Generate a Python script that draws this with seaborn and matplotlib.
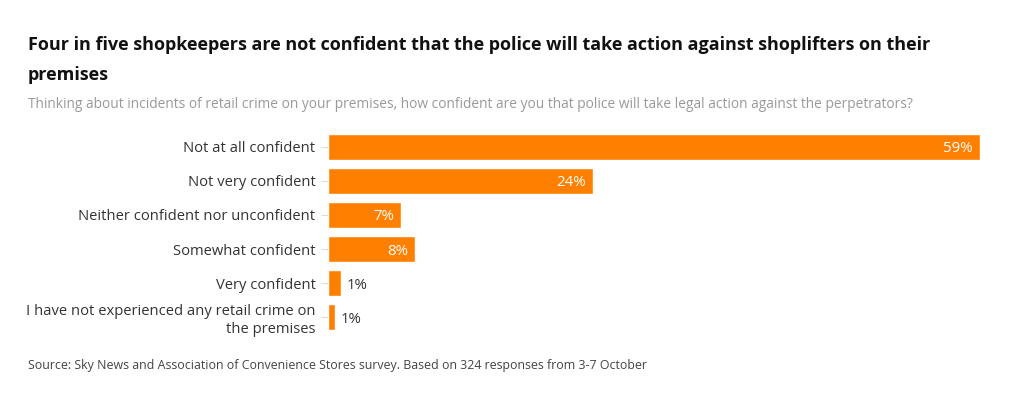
import matplotlib
matplotlib.use("Agg")
import matplotlib.pyplot as plt
import pandas as pd
import seaborn as sns

categories = [
    "Not at all confident",
    "Not very confident",
    "Neither confident nor unconfident",
    "Somewhat confident",
    "Very confident",
    "I have not experienced any retail crime on\nthe premises",
]
values = [59, 24, 6.6, 7.9, 1.2, 0.6]
value_labels = ["59%", "24%", "7%", "8%", "1%", "1%"]

df = pd.DataFrame({"category": categories, "value": values})

sns.set_theme(style="white")
plt.rcParams["font.family"] = ["Open Sans", "DejaVu Sans"]

fig = plt.figure(figsize=(10.2, 4.0), dpi=100)
ax = fig.add_axes([328 / 1020, 1 - 330 / 400, (980 - 328) / 1020, 196 / 400])

sns.barplot(data=df, x="value", y="category", color="#ff7f00", saturation=1,
            width=0.76, ax=ax)
ax.set_xlim(0, max(values))
ax.set_ylim(len(values) - 1 + 0.38, -0.38)
ax.set_xlabel("")
ax.set_ylabel("")
ax.set_xticks([])
for s in ax.spines.values():
    s.set_visible(False)
ax.tick_params(axis="y", length=5, width=0.8, color="#dddddd", pad=4,
               labelsize=10.6, labelcolor="#333333", left=True)
for t in ax.get_yticklabels():
    t.set_linespacing(1.3)

for i, (v, lab) in enumerate(zip(values, value_labels)):
    if v >= 5:
        ax.annotate(lab, (v, i), xytext=(-5, 0), textcoords="offset points",
                    ha="right", va="center_baseline", color="white", fontsize=10.8)
    else:
        ax.annotate(lab, (v, i), xytext=(4, 0), textcoords="offset points",
                    ha="left", va="center_baseline", color="#333333", fontsize=10.8)

fig.text(28 / 1020, 1 - 45 / 400, "Four in five shopkeepers are not confident that the police will take action against shoplifters on their",
         fontsize=13, fontweight="bold", color="#111111", va="center")
fig.text(28 / 1020, 1 - 75 / 400, "premises",
         fontsize=13, fontweight="bold", color="#111111", va="center")
fig.text(28 / 1020, 1 - 105 / 400,
         "Thinking about incidents of retail crime on your premises, how confident are you that police will take legal action against the perpetrators?",
         fontsize=9.9, color="#999999", va="center")
fig.text(28 / 1020, 1 - 365 / 400,
         "Source: Sky News and Association of Convenience Stores survey. Based on 324 responses from 3-7 October",
         fontsize=8.95, color="#444444", va="center")

fig.savefig("out.png", dpi=100)
